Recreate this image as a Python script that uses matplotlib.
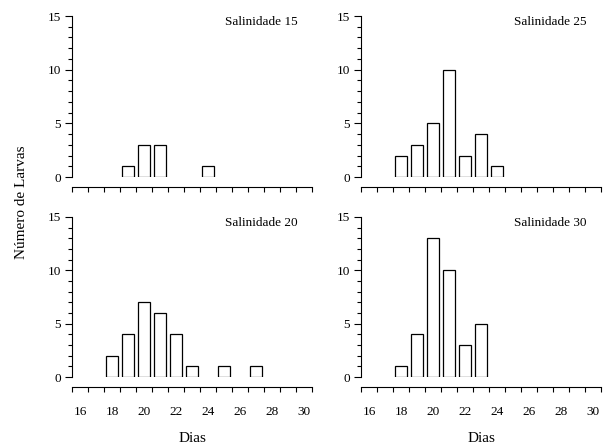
import matplotlib.pyplot as plt
from matplotlib.ticker import MultipleLocator

plt.rcParams['font.family'] = ['Liberation Serif', 'DejaVu Serif']

# day counts per salinity
dias_15 = [19, 20, 21, 24]
larvas_15 = [1, 3, 3, 1]

dias_20 = [18, 19, 20, 21, 22, 23, 25, 27]
larvas_20 = [2, 4, 7, 6, 4, 1, 1, 1]

dias_25 = [18, 19, 20, 21, 22, 23, 24]
larvas_25 = [2, 3, 5, 10, 2, 4, 1]

dias_30 = [18, 19, 20, 21, 22, 23]
larvas_30 = [1, 4, 13, 10, 3, 5]

titles = ['Salinidade 15', 'Salinidade 25', 'Salinidade 20', 'Salinidade 30']
x_labels = [16, 18, 20, 22, 24, 26, 28, 30]
y_labels = [0, 5, 10, 15]

W, H = 603, 446
fig = plt.figure(figsize=(W / 100, H / 100), dpi=100)

# axes rectangles in pixels: left, top(of y=15), bottom(of y=0)
panels = [
    (72, 16, 177, dias_15, larvas_15),
    (361, 16, 177, dias_25, larvas_25),
    (72, 217, 377, dias_20, larvas_20),
    (361, 217, 377, dias_30, larvas_30),
]

for i, (x0, ytop, ybot, dias, larvas) in enumerate(panels):
    ax = fig.add_axes([x0 / W, (H - ybot) / H, 240 / W, (ybot - ytop) / H])
    ax.bar(dias, larvas, width=0.72, facecolor='white', edgecolor='black',
           linewidth=0.9)
    ax.set_xlim(15.5, 30.5)
    ax.set_ylim(0, 15)

    for s in ['top', 'right']:
        ax.spines[s].set_visible(False)
    ax.spines['bottom'].set_position(('outward', 7.2))
    ax.spines['left'].set_linewidth(0.8)
    ax.spines['bottom'].set_linewidth(0.8)

    ax.set_yticks(y_labels)
    ax.yaxis.set_minor_locator(MultipleLocator(1))
    ax.tick_params(axis='y', which='major', length=5, width=0.8,
                   labelsize=9.5, pad=3)
    ax.tick_params(axis='y', which='minor', length=3, width=0.8)

    ax.set_xticks(x_labels)
    ax.set_xticks([15.5 + k for k in range(16)], minor=True)
    ax.tick_params(axis='x', which='major', length=0, labelsize=9.5, pad=14)
    ax.tick_params(axis='x', which='minor', length=3.5, width=0.8)
    if i < 2:
        ax.set_xticklabels([])
    else:
        ax.set_xlabel('Dias', fontsize=11, labelpad=10)

    ax.text(0.94, 1.0, titles[i], transform=ax.transAxes, ha='right',
            va='top', fontsize=9.5)

fig.text(22 / W, 1 - 202 / H, 'Número de Larvas', rotation=90,
         ha='center', va='center', fontsize=11)

fig.savefig('out.png', dpi=100)
